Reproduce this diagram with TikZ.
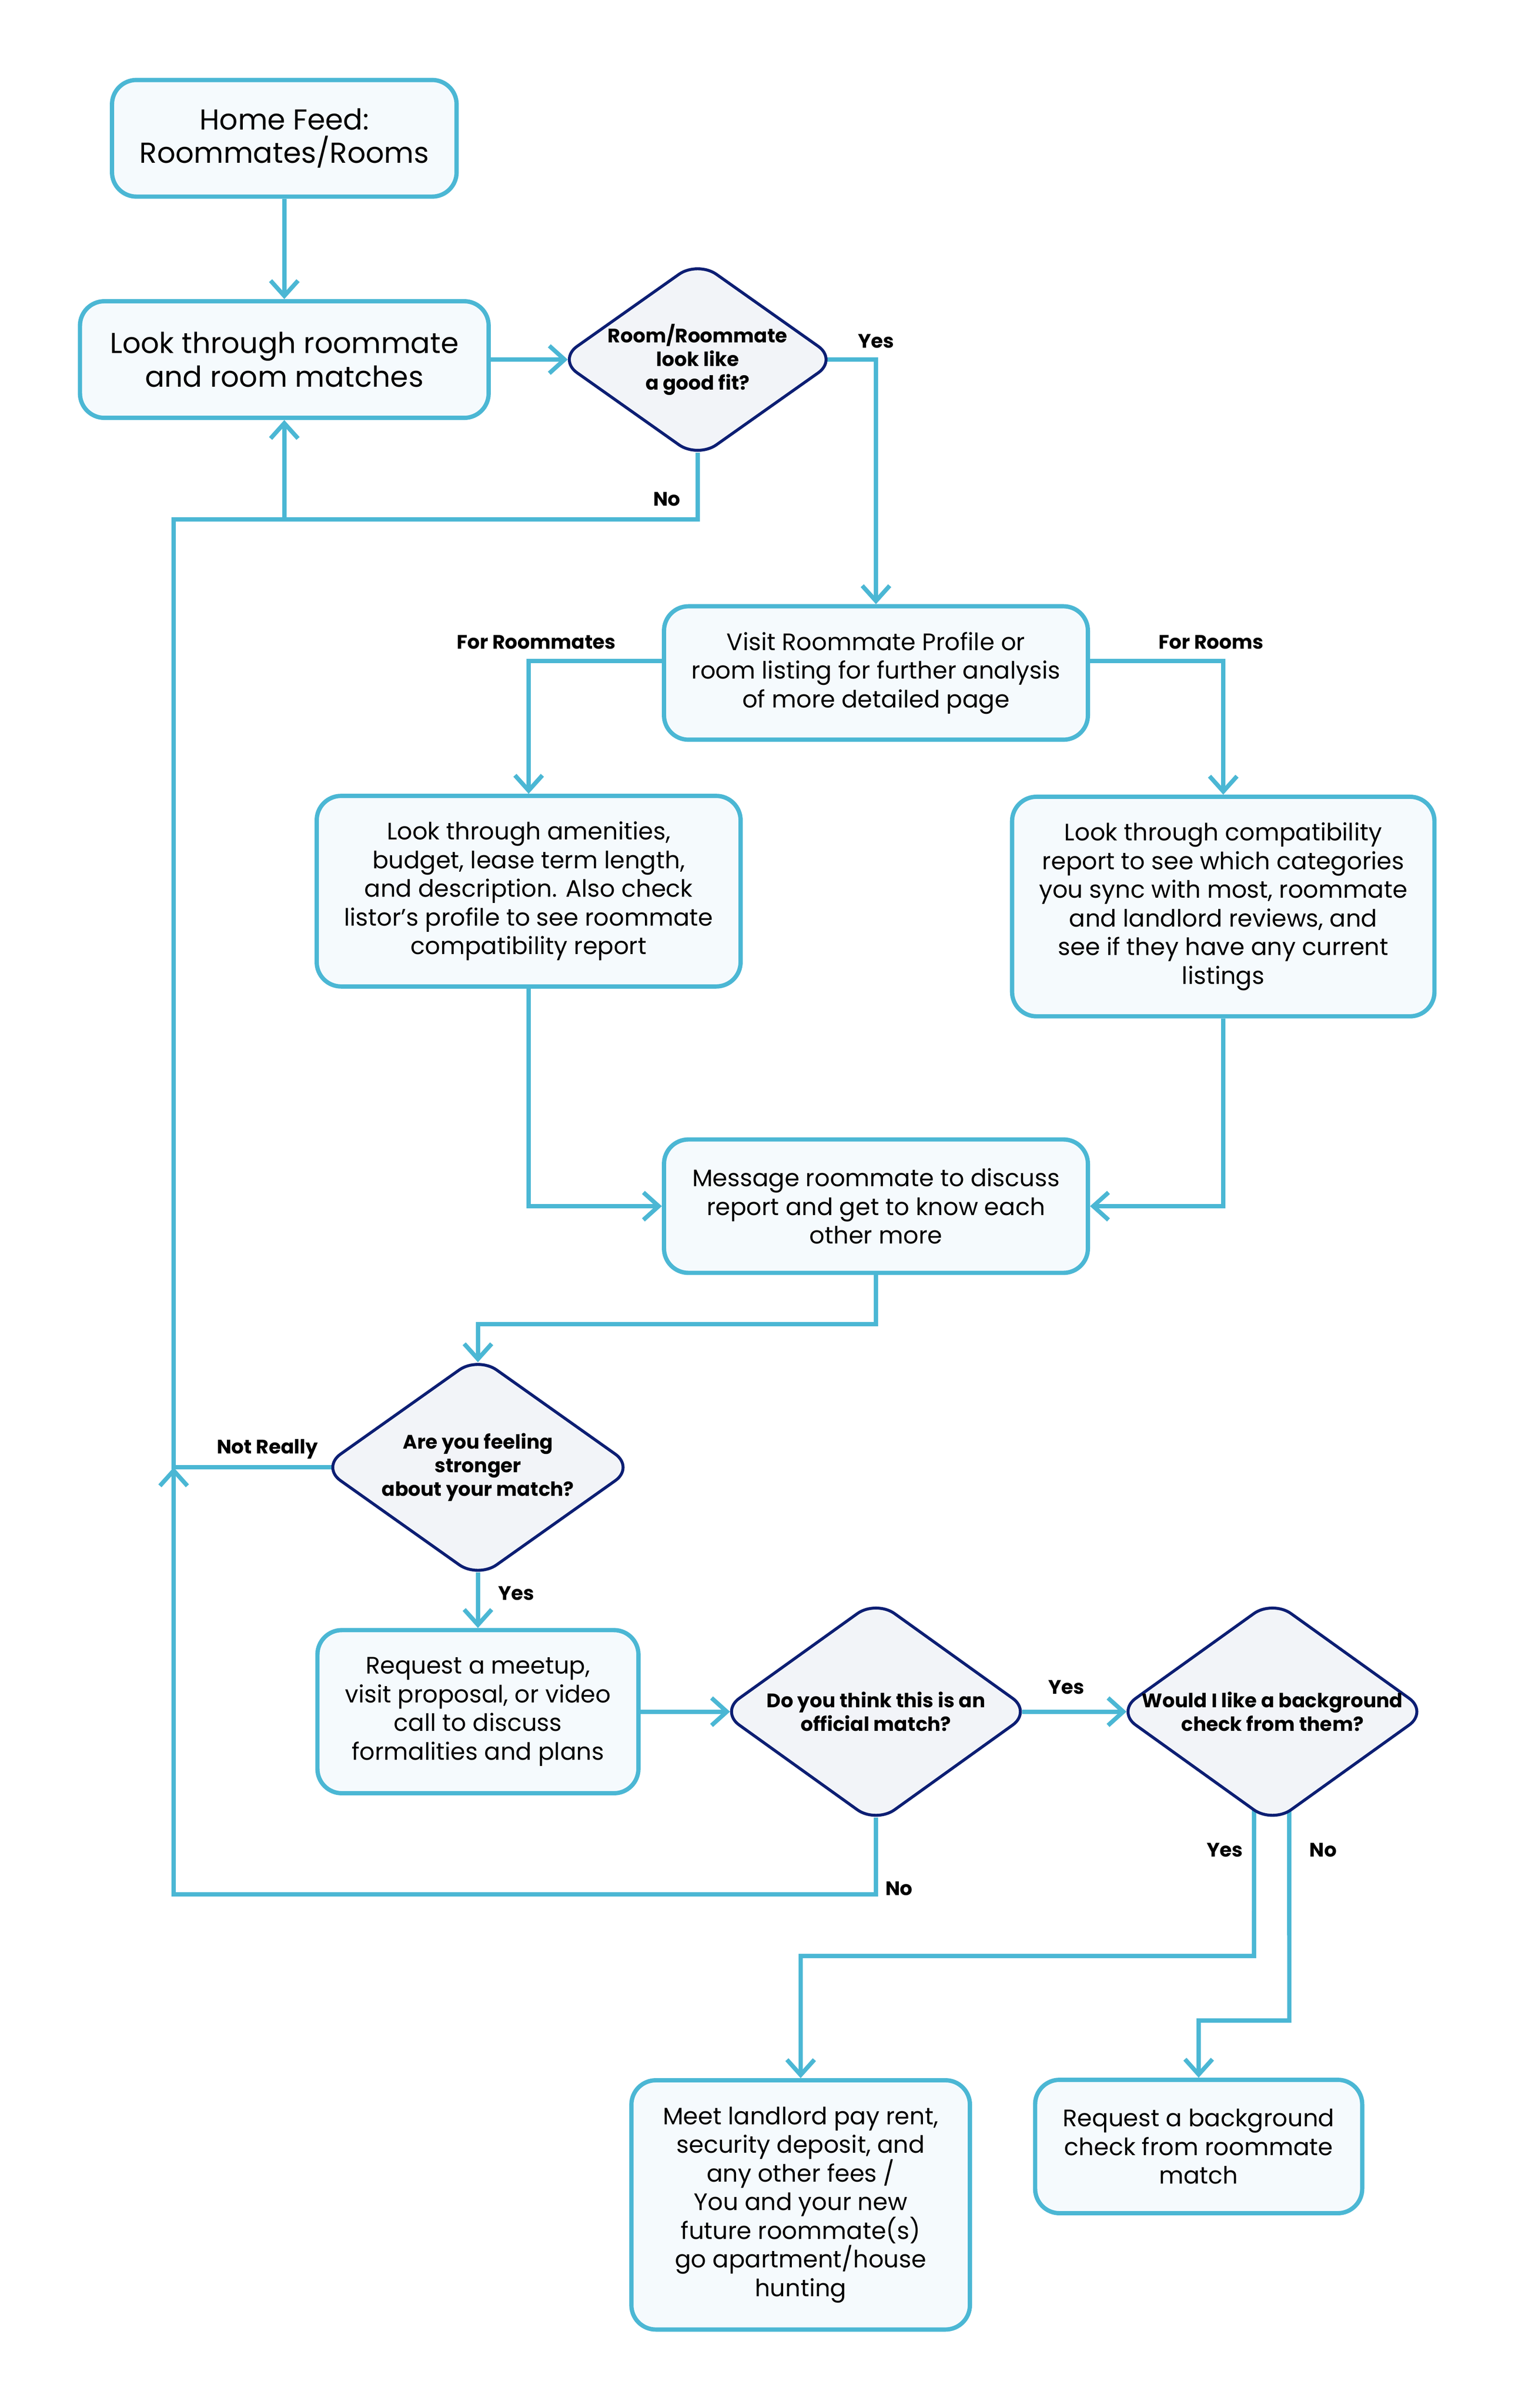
\documentclass[tikz,border=0pt]{standalone}
\usepackage{fontspec}
\setmainfont{Poppins}
\usetikzlibrary{positioning,
                arrows.meta,                % arrow tips
                shapes.geometric,           % diamond
                backgrounds}                % lines under the diamonds

\definecolor{linkblue}{RGB}{75,183,212}
\definecolor{boxfill}{RGB}{245,250,253}
\definecolor{decfill}{RGB}{242,244,248}
\definecolor{decline}{RGB}{12,30,115}

\begin{document}
\begin{tikzpicture}[x=0.02016cm, y=-0.02016cm,
    stepbox/.style={draw=linkblue, line width=1.6pt, fill=boxfill, rounded corners=0.32cm,
                    align=center, inner sep=0pt, font=\fontsize{8.9}{10.7}\selectfont},
    bigbox/.style={stepbox, font=\fontsize{10.75}{12.5}\selectfont},
    decision/.style={diamond, draw=decline, line width=1.1pt, fill=decfill, rounded corners=0.3cm,
                     align=center, inner sep=-1cm, font=\fontsize{7.3}{8.8}\selectfont\bfseries},
    lbl/.style={font=\fontsize{7.3}{8}\selectfont\bfseries},
    wire/.style={draw=linkblue, line width=1.6pt},
    link/.style={wire, -{Straight Barb[length=2mm,width=3.6mm]}},
    tipLR/.style={shorten >=-0.15cm},
    tipTB/.style={shorten >=-0.1cm},
    fromLR/.style={shorten <=-0.15cm},
    fromTB/.style={shorten <=-0.1cm}]
    \useasboundingbox (0,0) rectangle (992.06,1567.2);

    % boxes and decisions
    \node[bigbox, minimum width=4.52cm, minimum height=1.53cm] (home) at (185,90) {Home Feed:\\Roommates/Rooms};
    \node[bigbox, minimum width=5.36cm, minimum height=1.53cm] (look) at (185,234) {Look through roommate\\and room matches};
    \node[decision, minimum width=3.67cm, minimum height=2.6cm] (fit) at (454,234) {Room/Roommate\\look like\\a good fit?};
    \node[stepbox, minimum width=5.56cm, minimum height=1.75cm] (visit) at (570,438)
        {Visit Roommate Profile or\\room listing for further analysis\\of more detailed page};
    \node[stepbox, minimum width=5.56cm, minimum height=2.5cm] (amenities) at (344,580)
        {Look through amenities,\\budget, lease term length,\\and description. Also check\\listor’s profile to see roommate\\compatibility report};
    \node[stepbox, minimum width=5.54cm, minimum height=2.88cm] (compat) at (796,590)
        {Look through compatibility\\report to see which categories\\you sync with most, roommate\\and landlord reviews, and\\see if they have any current\\listings};
    \node[stepbox, minimum width=5.56cm, minimum height=1.75cm] (message) at (570,785)
        {Message roommate to discuss\\report and get to know each\\other more};
    \node[decision, minimum width=4.11cm, minimum height=2.92cm] (stronger) at (311,955) {Are you feeling\\stronger\\about your match?};
    \node[stepbox, minimum width=4.21cm, minimum height=2.14cm] (meetup) at (311,1114)
        {Request a meetup,\\visit proposal, or video\\call to discuss\\formalities and plans};
    \node[decision, minimum width=4.09cm, minimum height=2.94cm] (official) at (570,1114) {Do you think this is an\\official match?};
    \node[decision, minimum width=4.09cm, minimum height=2.94cm] (bgcheck) at (828,1114) {Would I like a background\\check from them?};
    \node[stepbox, minimum width=4.44cm, minimum height=3.27cm] (landlord) at (521,1435)
        {Meet landlord pay rent,\\security deposit, and\\any other fees /\\You and your new\\future roommate(s)\\go apartment/house\\hunting};
    \node[stepbox, minimum width=4.29cm, minimum height=1.75cm] (request) at (780,1397)
        {Request a background\\check from roommate\\match};

    % turning points
    \coordinate (noturn) at (185,338);
    \coordinate (looptop) at (113,338);
    \coordinate (loopmid) at (stronger.west -| looptop);
    \coordinate (loopbot) at (113,1233);
    \coordinate (yesturn) at (816,1273);
    \coordinate (bgturn) at (839,1315);

    % connectors
    \draw[link] (home) -- (look);
    \draw[link, tipLR] (look) -- (fit);
    \draw[link, fromLR] (fit.east) -| (visit.north);
    \draw[link, fromTB] (fit.south) |- (noturn) -- (look.south);
    \draw[wire, fromLR] (stronger.west) -- (loopmid) -- (looptop) -- (noturn);
    \draw[link, fromTB] (official.south) |- (loopbot) -- (loopmid);
    \draw[link] ([yshift=0.16cm]visit.west) -| (amenities.north);
    \draw[link] ([yshift=0.16cm]visit.east) -| (compat.north);
    \draw[link] (amenities.south) |- (message.west);
    \draw[link] (compat.south) |- (message.east);
    \draw[link, tipTB] (message.south) -- ++(0,32) -| (stronger.north);
    \draw[link, fromTB] (stronger.south) -- (meetup.north);
    \draw[link, tipLR] (meetup.east) -- (official.west);
    \draw[link, fromLR, tipLR] (official.east) -- (bgcheck.west);
    \begin{scope}[on background layer]
        \draw[link] ([xshift=-0.24cm]bgcheck.center) -- (yesturn) -| (landlord.north);
        \draw[link] ([xshift=0.22cm]bgcheck.center) -- (bgturn) -| (request.north);
    \end{scope}

    % labels
    \node[lbl] (yesfit) at (570,222) {Yes};
    \node[lbl] (nofit) at (434,325) {No};
    \node[lbl] (forroommates) at (349,418) {For Roommates};
    \node[lbl] (forrooms) at (788,418) {For Rooms};
    \node[lbl] (notreally) at (174,943) {Not Really};
    \node[lbl] (yesstrong) at (336,1037) {Yes};
    \node[lbl] (yesofficial) at (694,1098) {Yes};
    \node[lbl] (noofficial) at (585,1229) {No};
    \node[lbl] (yesbg) at (797,1204) {Yes};
    \node[lbl] (nobg) at (861,1204) {No};
\end{tikzpicture}
\end{document}
